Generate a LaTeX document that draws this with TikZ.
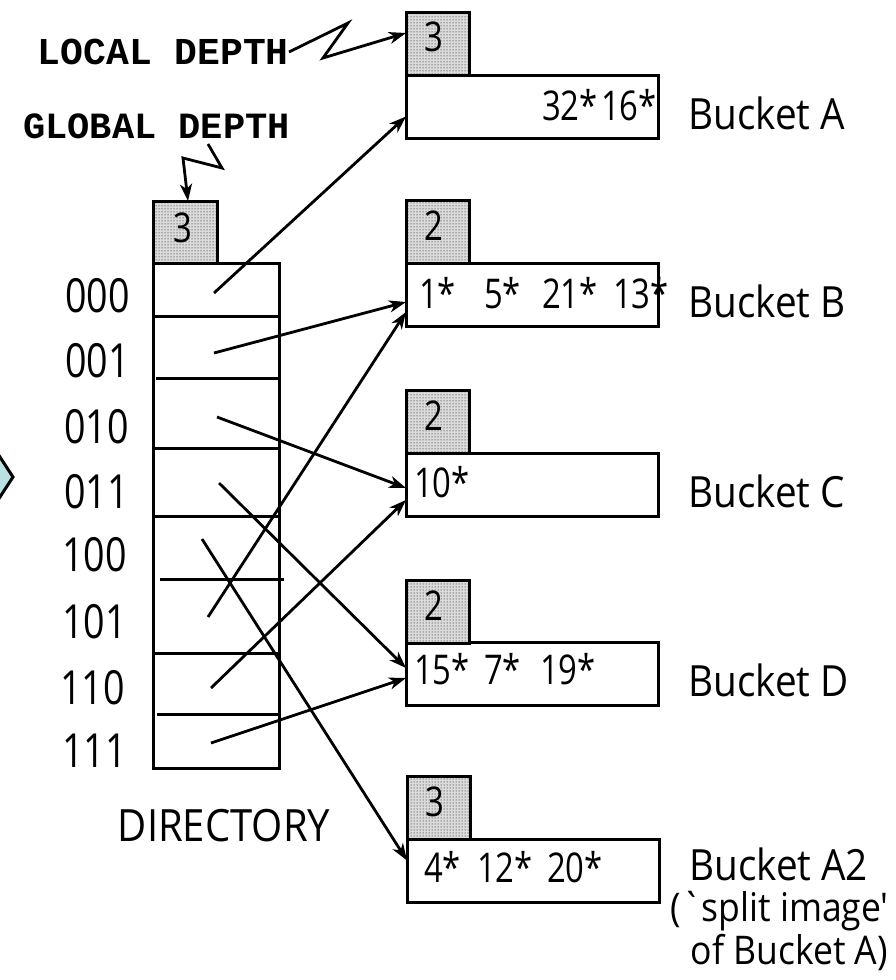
\documentclass[tikz,border=0pt]{standalone}
\usepackage{fontspec}
\newfontfamily\osans{Open Sans}[FakeStretch=0.9]
\newfontfamily\osansn{Open Sans}[FakeStretch=0.8]
\newfontfamily\cmono{Liberation Mono}
\usetikzlibrary{arrows.meta,calc,patterns}
\definecolor{diamondcol}{RGB}{185,224,226}
\tikzset{
  box/.style={draw, line width=3pt, inner sep=0pt, outer sep=0pt},
  bucket/.style={box, minimum width=252pt, minimum height=63pt},
  depthbox/.style={box, minimum width=63pt, minimum height=63pt, preaction={fill=black!14}, pattern=dots, pattern color=black},
  ptr/.style={line width=2.8pt, -{Stealth[length=17pt,width=12pt,inset=5pt]}},
  dline/.style={line width=3pt},
  blabel/.style={font=\osans\fontsize{43}{46}\selectfont, inner sep=0pt},
  slabel/.style={font=\osans\fontsize{39.5}{42}\selectfont, inner sep=0pt, anchor=base east},
  entry/.style={font=\osansn\fontsize{41}{43}\selectfont, inner sep=0pt, anchor=base west},
  dlbl/.style={font=\osansn\fontsize{47}{50}\selectfont, inner sep=0pt, anchor=west},
  depthnum/.style={font=\osansn\fontsize{41}{43}\selectfont, inner sep=0pt},
  mono/.style={font=\cmono\bfseries\fontsize{37}{39}\selectfont, inner sep=0pt, anchor=east}
}
\begin{document}
\begin{tikzpicture}[x=1pt,y=-1pt]
\useasboundingbox (0,0) rectangle (895,980);

% left partial diamond
\draw[line width=3pt, fill=diamondcol] (13,477) -- (-30,411) -- (-73,477) -- (-30,543) -- cycle;

% directory
\node[depthbox, minimum width=64pt, minimum height=62pt] (gd) at (185,232) {};
\node[depthnum] (gdn) at ($(gd.center)+(-2,-4)$) {3};
\node[box, minimum width=126pt, minimum height=505pt] (dir) at (216,515.5) {};
\draw[dline] (153,316) -- (279,316);
\draw[dline] (156,378) -- (279,378);
\draw[dline] (155,448) -- (279,448);
\draw[dline] (153,516) -- (279,516);
\draw[dline] (160,579) -- (284,579);
\draw[dline] (155,653) -- (279,653);
\draw[dline] (157,714) -- (281,714);

\node[dlbl] (l000) at (65,296) {000};
\node[dlbl] (l001) at (65,361) {001};
\node[dlbl] (l010) at (64,427) {010};
\node[dlbl] (l011) at (64,492) {011};
\node[dlbl] (l100) at (62,555) {100};
\node[dlbl] (l101) at (62,622) {101};
\node[dlbl] (l110) at (60,688) {110};
\node[dlbl] (l111) at (62,751) {111};

\node[font=\osans\fontsize{44.5}{46}\selectfont, inner sep=0pt] (dirlbl) at (224,826) {DIRECTORY};

% buckets
\node[bucket] (bA) at (532,106.5) {};
\node[depthbox] (dA) at (437.5,43.5) {};
\node[bucket] (bB) at (532,295) {};
\node[depthbox] (dB) at (437.5,232) {};
\node[bucket] (bC) at (532,485) {};
\node[depthbox] (dC) at (437.5,421.5) {};
\node[bucket] (bD) at (532,674) {};
\node[depthbox] (dD) at (437.5,611.5) {};
\node[bucket] (bA2) at (533,870.5) {};
\node[depthbox] (dA2) at (438.5,807.5) {};

\node[depthnum] (nA) at ($(dA.center)+(-4,-7)$) {3};
\node[depthnum] (nB) at ($(dB.center)+(-4,-6)$) {2};
\node[depthnum] (nC) at ($(dC.center)+(-4,-6)$) {2};
\node[depthnum] (nD) at ($(dD.center)+(-4,-6)$) {2};
\node[depthnum] (nA2) at ($(dA2.center)+(-4,-6)$) {3};

% bucket entries
\node[entry] (eA1) at (542,120) {32*};
\node[entry] (eA2) at (601,120) {16*};
\node[entry] (eB1) at (419,308) {1*};
\node[entry] (eB2) at (484,308) {5*};
\node[entry] (eB3) at (542,308) {21*};
\node[entry] (eB4) at (613,308) {13*};
\node[entry] (eC1) at (414,497) {10*};
\node[entry] (eD1) at (414,684) {15*};
\node[entry] (eD2) at (484,684) {7*};
\node[entry] (eD3) at (540,684) {19*};
\node[entry] (eE1) at (424,882) {4*};
\node[entry] (eE2) at (477,882) {12*};
\node[entry] (eE3) at (547,882) {20*};

% bucket labels
\node[blabel, anchor=base west] (tA) at (688,129) {Bucket A};
\node[blabel, anchor=base west] (tB) at (688,317) {Bucket B};
\node[blabel, anchor=base west] (tC) at (688,507) {Bucket C};
\node[blabel, anchor=base west] (tD) at (688,696) {Bucket D};
\node[blabel, anchor=base west] (tA2) at (689,880) {Bucket A2};
\node[slabel] (tS1) at (889,921) {(`split image'};
\node[slabel] (tS2) at (888,964) {of Bucket A)};

% depth captions
\node[mono, font=\cmono\bfseries\fontsize{38}{40}\selectfont] (ld) at (289,52) {LOCAL DEPTH};
\node[mono] (gdl) at (290,126) {GLOBAL DEPTH};
\coordinate (lz1) at (348,23);
\coordinate (lz2) at (323,58);
\draw[ptr] (ld.east) -- (lz1) -- (lz2) -- ($(dA.west)+(0,-10.5)$);
\coordinate (gz0) at (208,144);
\coordinate (gz1) at (222,168);
\coordinate (gz2) at (183,158);
\draw[ptr] (gz0) -- (gz1) -- (gz2) -- ($(gd.north)+(3,0)$);

% directory pointers
\coordinate (s000) at (214,293);
\coordinate (s001) at (214,353);
\coordinate (s010) at (217,417);
\coordinate (s011) at (219,483);
\coordinate (s100) at (202,539);
\coordinate (s101) at (208,617);
\coordinate (s110) at (211,688);
\coordinate (s111) at (211,743);
\draw[ptr] (s000) -- ($(bA.west)+(0,10)$);
\draw[ptr] (s001) -- ($(bB.west)+(0,7)$);
\draw[ptr] (s010) -- ($(bC.west)+(0,3)$);
\draw[ptr] (s011) -- ($(bD.west)+(0,-6)$);
\draw[ptr] (s100) -- ($(bA2.west)+(0,-10)$);
\draw[ptr] (s101) -- ($(bB.west)+(0,17)$);
\draw[ptr] (s110) -- ($(bC.west)+(0,15)$);
\draw[ptr] (s111) -- ($(bD.west)+(0,4)$);
\end{tikzpicture}
\end{document}
